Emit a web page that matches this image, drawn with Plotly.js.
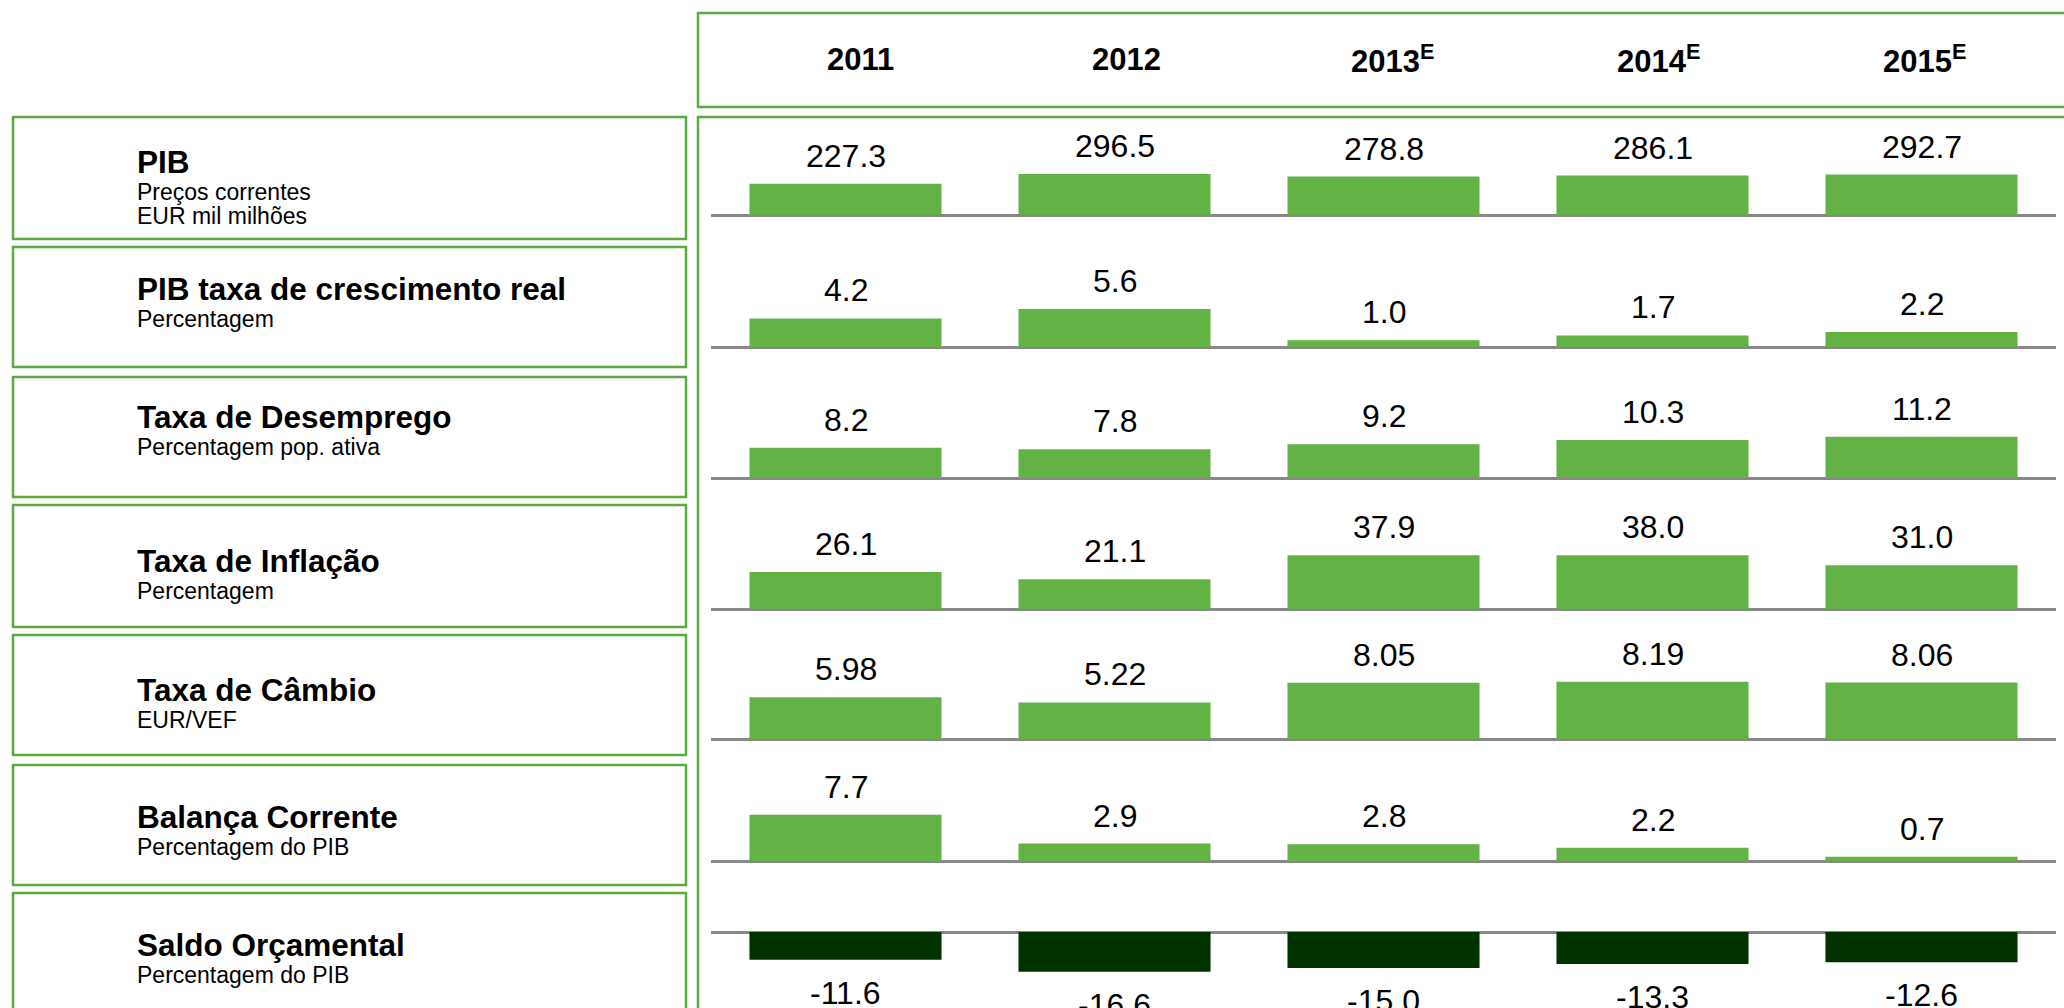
<!DOCTYPE html>
<html>
<head>
<meta charset="utf-8">
<script src="https://cdn.plot.ly/plotly-3.0.1.min.js"></script>
<style>html,body{margin:0;padding:0;background:#fff;}#chart{width:2064px;height:1008px;}</style>
</head>
<body>
<div id="chart"></div>
<script>
// ---- data ----
var years = ['2011', '2012', '2013', '2014', '2015'];
var yearLabels = ['2011', '2012', '2013<sup>E</sup>', '2014<sup>E</sup>', '2015<sup>E</sup>'];
var indicatorTitles = ['PIB', 'PIB taxa de crescimento real', 'Taxa de Desemprego', 'Taxa de Inflação', 'Taxa de Câmbio', 'Balança Corrente', 'Saldo Orçamental'];
var indicatorUnits = [['Preços correntes', 'EUR mil milhões'], ['Percentagem'], ['Percentagem pop. ativa'], ['Percentagem'], ['EUR/VEF'], ['Percentagem do PIB'], ['Percentagem do PIB']];
var pib = [227.3, 296.5, 278.8, 286.1, 292.7];
var pibGrowth = [4.2, 5.6, 1.0, 1.7, 2.2];
var unemployment = [8.2, 7.8, 9.2, 10.3, 11.2];
var inflation = [26.1, 21.1, 37.9, 38.0, 31.0];
var exchangeRate = [5.98, 5.22, 8.05, 8.19, 8.06];
var currentAccount = [7.7, 2.9, 2.8, 2.2, 0.7];
var budgetBalance = [-11.6, -16.6, -15.0, -13.3, -12.6];
var decimals = [1, 1, 1, 1, 2, 1, 1];

// ---- layout constants (pixels) ----
var W = 2064, H = 1008;
var series = [pib, pibGrowth, unemployment, inflation, exchangeRate, currentAccount, budgetBalance];
var rowZero = [215, 347, 478, 609, 739, 861, 932];      // zero line pixel
var rowScale = [0.138, 6.8, 3.68, 1.415, 7.0, 6.0, 2.4]; // px per unit
var rowDom = [[117, 245], [245, 375], [375, 505], [505, 635], [635, 765], [765, 893], [893, 1008]];
var boxes = [[117, 239], [247, 367], [377, 497], [505, 627], [635, 755], [765, 885], [893, 1020]];
var titleY = [162, 289, 417, 561, 690, 817, 945];
var GREEN = '#62b246', DARK = '#003300', BORDER = '#5aab3f', AXIS = '#888888';
var FONT = 'Arial, "Liberation Sans", sans-serif';

function px(x) { return x / W; }
function py(y) { return 1 - y / H; }

var traces = [];
var layout = {
  width: W, height: H,
  margin: {l: 0, r: 0, t: 0, b: 0},
  paper_bgcolor: '#ffffff', plot_bgcolor: 'rgba(0,0,0,0)',
  showlegend: false,
  bargap: 0.286,
  font: {family: FONT, color: '#000'},
  xaxis: {domain: [px(711), px(2056)], type: 'category', categoryarray: years, range: [-0.5, 4.5],
          visible: false, fixedrange: true},
  xaxis2: {domain: [px(727), px(2057)], type: 'category', categoryarray: years, range: [-0.5, 4.5],
           visible: false, anchor: 'y8'},
  yaxis8: {domain: [py(105), py(13)], range: [0, 1], visible: false, anchor: 'x2'},
  shapes: [], annotations: []
};

// header helper trace so x2 exists
traces.push({type: 'scatter', x: years, y: [null, null, null, null, null], xaxis: 'x2', yaxis: 'y8',
             mode: 'markers', hoverinfo: 'skip', showlegend: false});

series.forEach(function (vals, i) {
  var k = i + 1;
  var yName = k === 1 ? 'y' : 'y' + k;
  var axKey = k === 1 ? 'yaxis' : 'yaxis' + k;
  var top = rowDom[i][0], bot = rowDom[i][1];
  layout[axKey] = {
    domain: [py(bot), py(top)],
    range: [(rowZero[i] - bot) / rowScale[i], (rowZero[i] - top) / rowScale[i]],
    showgrid: false, showticklabels: false, ticks: '', showline: false,
    zeroline: true, zerolinecolor: AXIS, zerolinewidth: 3, anchor: 'x', fixedrange: true
  };
  traces.push({
    type: 'bar', x: years, y: vals, xaxis: 'x', yaxis: yName,
    marker: {color: vals.map(function (v) { return v < 0 ? DARK : GREEN; }), line: {width: 0}},
    hoverinfo: 'skip'
  });
  vals.forEach(function (v, j) {
    layout.annotations.push({
      xref: 'x', yref: yName, x: j, y: v, yshift: v < 0 ? -33 : 28,
      text: v.toFixed(decimals[i]), showarrow: false, xanchor: 'center', yanchor: 'middle',
      font: {family: FONT, size: 32, color: '#000'}
    });
  });
  // left label box
  layout.shapes.push({type: 'rect', xref: 'paper', yref: 'paper', x0: px(13), x1: px(686),
    y0: py(boxes[i][1]), y1: py(boxes[i][0]), line: {color: BORDER, width: 2.5}, fillcolor: 'rgba(0,0,0,0)'});
  layout.annotations.push({xref: 'paper', yref: 'paper', x: px(135), y: py(titleY[i]),
    xanchor: 'left', yanchor: 'middle', showarrow: false,
    text: '<b>' + indicatorTitles[i] + '</b>', font: {family: FONT, size: 31.5, color: '#000'}});
  indicatorUnits[i].forEach(function (line, m) {
    layout.annotations.push({xref: 'paper', yref: 'paper', x: px(135), y: py(titleY[i] + 30 + 24 * m),
      xanchor: 'left', yanchor: 'middle', showarrow: false,
      text: line, font: {family: FONT, size: 23, color: '#000'}});
  });
});

// header box and data panel box
layout.shapes.push({type: 'rect', xref: 'paper', yref: 'paper', x0: px(698), x1: px(2080),
  y0: py(107), y1: py(13), line: {color: BORDER, width: 2.5}, fillcolor: 'rgba(0,0,0,0)'});
layout.shapes.push({type: 'rect', xref: 'paper', yref: 'paper', x0: px(698), x1: px(2080),
  y0: py(1030), y1: py(117), line: {color: BORDER, width: 2.5}, fillcolor: 'rgba(0,0,0,0)'});

// year header labels
yearLabels.forEach(function (lab, j) {
  layout.annotations.push({xref: 'x2', yref: 'paper', x: j, y: py(59),
    xanchor: 'center', yanchor: 'middle', showarrow: false,
    text: '<b>' + lab + '</b>', font: {family: FONT, size: 31, color: '#000'}});
});

Plotly.newPlot('chart', traces, layout, {staticPlot: true, displayModeBar: false});
</script>
</body>
</html>
